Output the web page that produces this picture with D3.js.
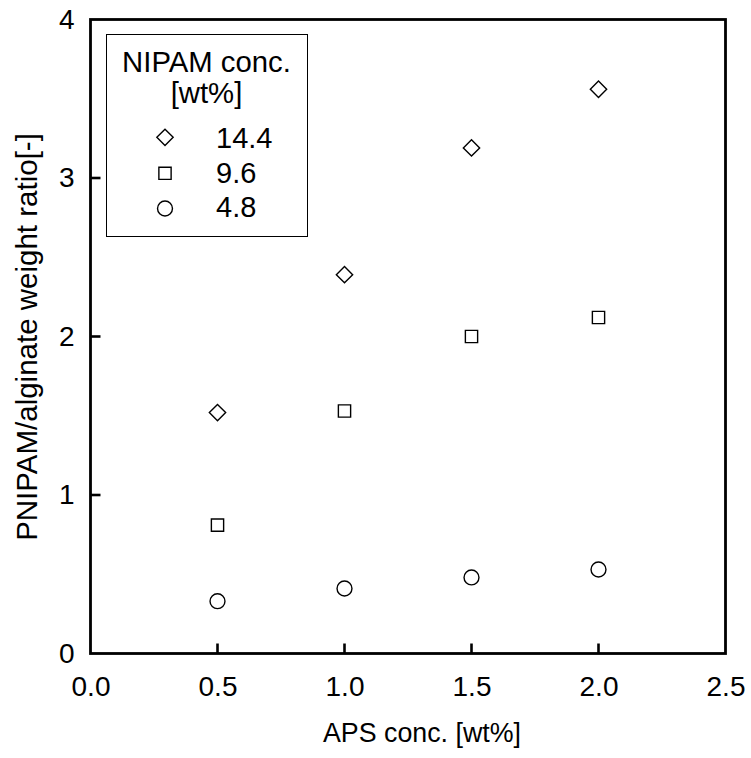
<!DOCTYPE html>
<html><head><meta charset="utf-8">
<script src="https://cdn.jsdelivr.net/npm/d3@7"></script>
<style>body{margin:0;background:#fff}svg{display:block}text{font-family:"Liberation Sans",Arial,sans-serif;fill:#000}</style>
</head><body>
<script>
const apsConc = [0.5, 1.0, 1.5, 2.0];
const seriesNames = ["14.4", "9.6", "4.8"];
const seriesSymbols = ["diamond", "square", "circle"];
const values144 = [1.52, 2.39, 3.19, 3.56];
const values96 = [0.81, 1.53, 2.00, 2.12];
const values48 = [0.33, 0.41, 0.48, 0.53];
const xTicks = [0.0, 0.5, 1.0, 1.5, 2.0, 2.5];
const yTicks = [0, 1, 2, 3, 4];
const seriesValues = [values144, values96, values48];

const W = 751, H = 758;
const FONT = '"Liberation Sans",Arial,sans-serif';
const svg = d3.select("body").append("svg").attr("width", W).attr("height", H);
const x = d3.scaleLinear().domain([0, 2.5]).range([90.5, 725.5]);
const y = d3.scaleLinear().domain([0, 4]).range([653.5, 19.5]);

const sym = {
  diamond: d3.symbol().type(d3.symbolDiamond2).size(170)(),
  square: d3.symbol().type(d3.symbolSquare).size(150)(),
  circle: d3.symbol().type(d3.symbolCircle).size(175)()
};

// frame
svg.append("rect").attr("x", x(0)).attr("y", y(4)).attr("width", x(2.5) - x(0)).attr("height", y(0) - y(4))
  .attr("fill", "none").attr("stroke", "#000").attr("stroke-width", 2.8);

// axes with inward ticks
const xAxis = svg.append("g").attr("transform", `translate(0,${y(0)})`)
  .call(d3.axisBottom(x).tickValues(xTicks).tickFormat(d3.format(".1f")).tickSize(0).tickPadding(23));
xAxis.select(".domain").remove();
xAxis.selectAll("text").attr("font-size", 28).attr("font-family", FONT).attr("fill", "#000");
xTicks.filter(d => d > 0 && d < 2.5).forEach(d => {
  svg.append("line").attr("x1", x(d)).attr("x2", x(d)).attr("y1", y(0)).attr("y2", y(0) - 10)
    .attr("stroke", "#000").attr("stroke-width", 2.6);
});

const yAxis = svg.append("g").attr("transform", `translate(${x(0)},0)`)
  .call(d3.axisLeft(y).tickValues(yTicks).tickFormat(d3.format("d")).tickSize(0).tickPadding(16));
yAxis.select(".domain").remove();
yAxis.selectAll("text").attr("font-size", 28).attr("font-family", FONT).attr("fill", "#000");
yTicks.filter(d => d > 0 && d < 4).forEach(d => {
  svg.append("line").attr("x1", x(0)).attr("x2", x(0) + 10).attr("y1", y(d)).attr("y2", y(d))
    .attr("stroke", "#000").attr("stroke-width", 2.6);
});

// axis titles
svg.append("text").attr("x", 422).attr("y", 742).attr("text-anchor", "middle").attr("font-size", 26.8)
  .text("APS conc. [wt%]");
svg.append("text").attr("transform", "translate(37,337) rotate(-90)").attr("text-anchor", "middle").attr("font-size", 29.5)
  .text("PNIPAM/alginate weight ratio[-]");

// points
seriesValues.forEach((vals, i) => {
  svg.append("g").selectAll("path").data(vals).join("path")
    .attr("transform", (v, j) => `translate(${x(apsConc[j])},${y(v)})`)
    .attr("d", sym[seriesSymbols[i]])
    .attr("fill", "none").attr("stroke", "#000").attr("stroke-width", 1.4);
});

// legend
const lg = svg.append("g");
lg.append("rect").attr("x", 106.5).attr("y", 34.5).attr("width", 201).attr("height", 202)
  .attr("fill", "#fff").attr("stroke", "#000").attr("stroke-width", 1);
lg.append("text").attr("x", 206.5).attr("y", 71.5).attr("text-anchor", "middle").attr("font-size", 29.3).text("NIPAM conc.");
lg.append("text").attr("x", 206.5).attr("y", 103).attr("text-anchor", "middle").attr("font-size", 29.3).text("[wt%]");
const legSymY = [137.3, 173.3, 208.5];
const legTextY = [147.5, 182.5, 217];
seriesNames.forEach((n, i) => {
  lg.append("path").attr("transform", `translate(165,${legSymY[i]})`).attr("d", sym[seriesSymbols[i]])
    .attr("fill", "none").attr("stroke", "#000").attr("stroke-width", 1.4);
  lg.append("text").attr("x", 216).attr("y", legTextY[i]).attr("font-size", 29).text(n);
});
</script>
</body></html>
